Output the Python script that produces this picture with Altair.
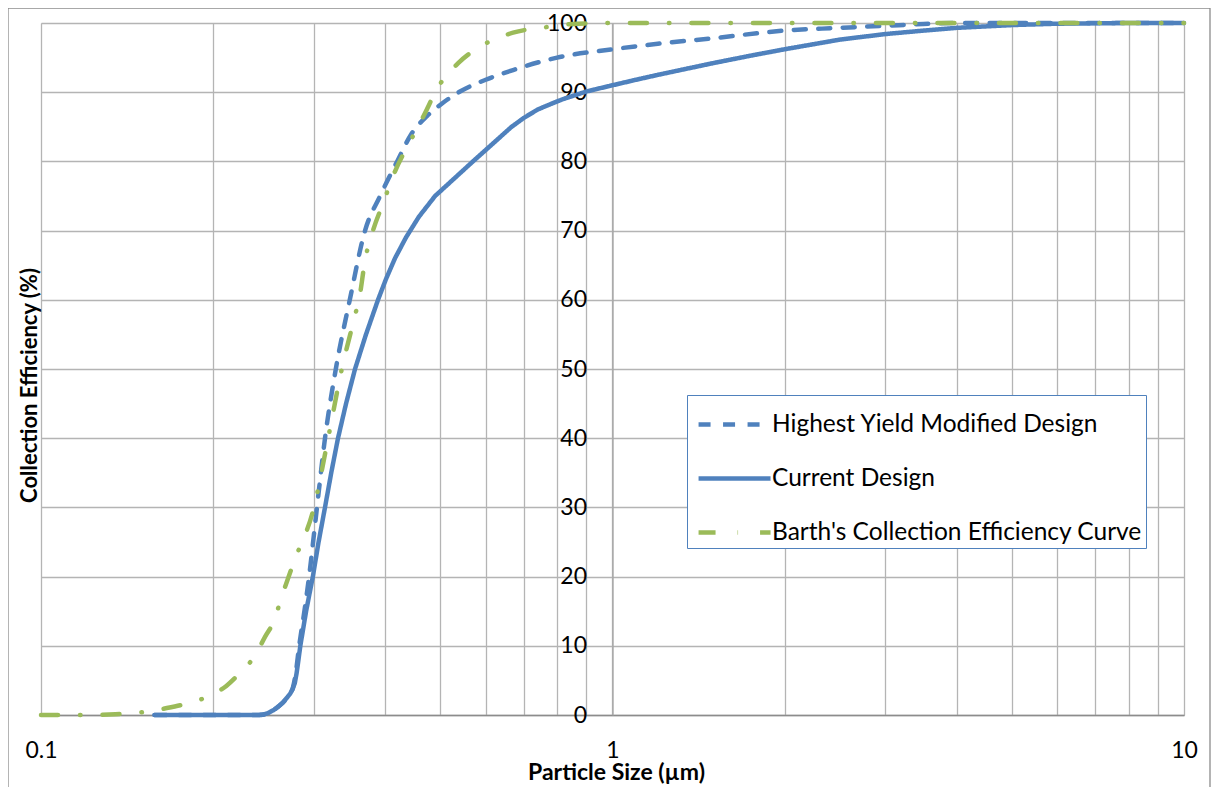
import altair as alt
import pandas as pd

series_names = ["Highest Yield Modified Design", "Current Design",
                "Barth's Collection Efficiency Curve"]
series_colors = ["#4f81bd", "#4f81bd", "#9bbb59"]
series_dashes = [[12, 12.5], [1, 0], [17, 22, 0.5, 22]]
series_interp = ["monotone", "linear", "monotone"]

# Highest Yield Modified Design (dashed)
hy_x = [0.158, 0.18, 0.20, 0.22, 0.24, 0.25, 0.26, 0.27, 0.276, 0.279, 0.283,
        0.289, 0.2945, 0.304, 0.314, 0.328, 0.347, 0.369, 0.392, 0.42, 0.445,
        0.473, 0.50, 0.541, 0.60, 0.67, 0.80, 1.0, 1.2, 1.5, 2.0, 2.5, 3.0,
        3.5, 4.0, 10.0]
hy_y = [0, 0, 0, 0, 0, 0.3, 1.2, 2.6, 4, 6, 10, 15, 20, 30, 40, 50, 60, 70, 75,
        80, 84, 86.5, 88.2, 90.1, 91.8, 93.2, 95.0, 96.2, 97.0, 97.8, 98.9,
        99.3, 99.6, 99.85, 100, 100]

# Current Design (solid)
cd_x = [0.158, 0.20, 0.24, 0.245, 0.25, 0.255, 0.26, 0.265, 0.27, 0.273,
        0.2755, 0.278, 0.28, 0.282, 0.2843, 0.291, 0.299, 0.306, 0.314, 0.322,
        0.3309, 0.3418, 0.3544, 0.3704, 0.3888, 0.4015, 0.4163, 0.4351,
        0.4584, 0.4893, 0.570, 0.666, 0.70, 0.74, 0.78, 0.819, 0.9, 1.0, 1.1,
        1.2, 1.35, 1.5, 1.75, 2.0, 2.5, 3.0, 3.5, 4.0, 5.0, 6.0, 8.0, 10.0]
cd_y = [0, 0, 0, 0.05, 0.3, 0.7, 1.2, 1.8, 2.6, 3.1, 3.7, 4.6, 6, 7.8, 10, 15,
        20, 25, 30, 35, 40, 45, 50, 55, 60, 63, 66, 69, 72, 75, 80, 85, 86.3,
        87.5, 88.3, 89, 90.1, 91, 91.8, 92.5, 93.4, 94.2, 95.3, 96.2, 97.6,
        98.4, 98.9, 99.3, 99.7, 99.9, 100, 100]

# Barth's Collection Efficiency Curve (dash-dot)
barth_x = [0.10, 0.12, 0.135, 0.15, 0.166, 0.179, 0.195, 0.211, 0.223, 0.236,
           0.247, 0.256, 0.263, 0.271, 0.277, 0.3003, 0.318, 0.336, 0.354,
           0.361, 0.369, 0.381, 0.397, 0.416, 0.442, 0.468, 0.495, 0.537,
           0.593, 0.67, 0.765, 0.87, 1.0, 10.0]
barth_y = [0, 0, 0.1, 0.4, 1.0, 1.6, 2.6, 4.2, 6.1, 8.4, 11.4, 13.7, 16.8,
           19.9, 22.1, 30, 40, 50, 57.6, 60.5, 65.7, 70, 74, 78.5, 82.8, 86.7,
           90.7, 94.2, 96.8, 98.6, 99.4, 99.9, 100, 100]

x_ticks = [0.1, 0.2, 0.3, 0.4, 0.5, 0.6, 0.7, 0.8, 0.9,
           1, 2, 3, 4, 5, 6, 7, 8, 9, 10]
y_ticks = [0, 10, 20, 30, 40, 50, 60, 70, 80, 90, 100]

rows = []
for name, xs, ys in zip(series_names, [hy_x, cd_x, barth_x], [hy_y, cd_y, barth_y]):
    for i, (a, b) in enumerate(zip(xs, ys)):
        rows.append({"series": name, "size": a, "eff": b, "order": i})
df = pd.DataFrame(rows)

FONT = "Lato"
W, H = 1143, 692

legend = alt.Legend(
    title=None, orient="none", legendX=646, legendY=372,
    strokeColor="#4f81bd", fillColor="white", padding=4,
    symbolType="M-0.78,0H2.35", symbolSize=2116, symbolStrokeWidth=4.5,
    labelOffset=30, rowPadding=17, labelFont=FONT, labelFontSize=24.5,
    labelColor="black", labelLimit=500,
)

xaxis = alt.Axis(
    values=x_ticks, ticks=False, labelFlush=False, labelOverlap=False,
    labelExpr="abs(log(datum.value)/LN10 - round(log(datum.value)/LN10)) < 0.001 ? format(datum.value, '~g') : ''",
    labelPadding=24, labelFont=FONT, labelFontSize=23, labelColor="black",
    domainColor="#8c8c8c", domainWidth=1.3,
    gridColor="#b4b4b4", gridWidth=1.3,
    titleFont=FONT, titleFontSize=23, titleFontWeight="bold", titleColor="black",
    titleX=575, titleY=64, titleBaseline="alphabetic", titleAlign="center",
)

yaxis = alt.Axis(
    values=y_ticks, ticks=False, offset=-571.5,
    labelPadding=26, labelFont=FONT, labelFontSize=23, labelColor="black",
    labelAlign="right", labelBaseline="middle",
    domainColor="#a6a6a6", domainWidth=1.3,
    gridColor="#b4b4b4", gridWidth=1.3,
    titleFont=FONT, titleFontSize=22, titleFontWeight="bold", titleColor="black",
    titleX=-583.5, titleY=362, titleAngle=270, titleAlign="center",
    titleBaseline="middle",
)

base = alt.Chart(df)


def series_layer(name, interp):
    return base.transform_filter(alt.datum.series == name).mark_line(
        strokeWidth=4.5, strokeCap="round", strokeJoin="round",
        interpolate=interp, clip=False,
    ).encode(
        x=alt.X("size:Q", scale=alt.Scale(type="log", domain=[0.1, 10], nice=False),
                axis=xaxis, title="Particle Size (µm)"),
        y=alt.Y("eff:Q", scale=alt.Scale(domain=[0, 100], nice=False),
                axis=yaxis, title="Collection Efficiency (%)"),
        color=alt.Color("series:N", scale=alt.Scale(domain=series_names, range=series_colors),
                        legend=legend),
        strokeDash=alt.StrokeDash("series:N",
                                  scale=alt.Scale(domain=series_names, range=series_dashes),
                                  legend=legend),
        order="order:Q",
    )


frame = alt.Chart(pd.DataFrame({"a": [0]})).mark_rect(
    fill="transparent", stroke="#8c8c8c", strokeWidth=1.3, clip=False
).encode(
    x=alt.value(-33), x2=alt.value(1169), y=alt.value(-15), y2=alt.value(790)
)

chart = alt.layer(
    frame,
    *[series_layer(n, s) for n, s in zip(series_names, series_interp)],
).properties(
    width=W, height=H,
    padding={"left": 33, "top": 15, "right": 27, "bottom": 72},
    autosize=alt.AutoSizeParams(type="none"),
).configure_view(
    stroke="#a0a0a0", strokeWidth=1.3
).configure(background="white")

chart.save("out.html", embed_options={"renderer": "svg", "actions": False})
